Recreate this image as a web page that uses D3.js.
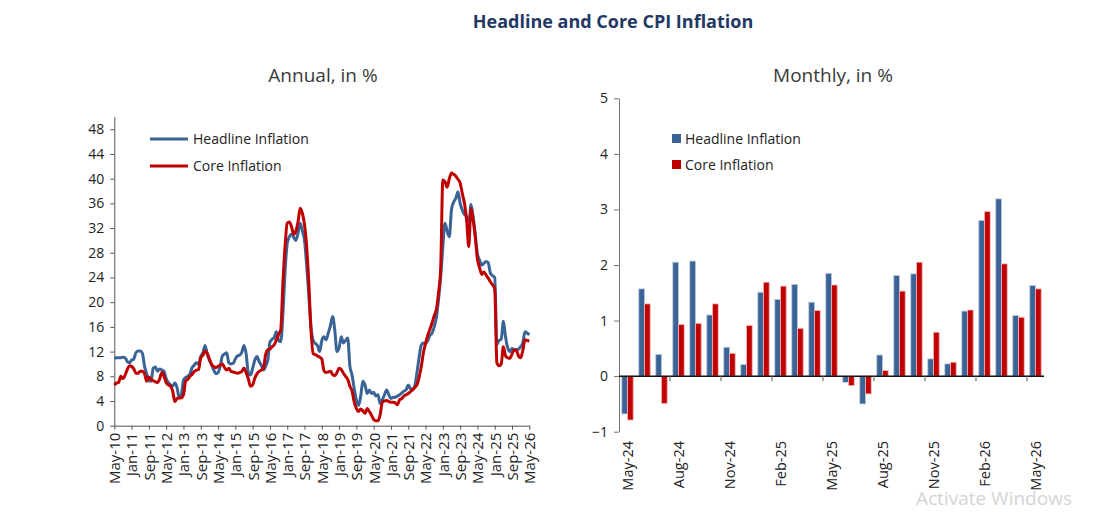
<!DOCTYPE html>
<html><head><meta charset="utf-8">
<script src="https://cdn.jsdelivr.net/npm/d3@7"></script>
<style>body{margin:0;background:#fff}svg{display:block}text{font-family:'Open Sans',sans-serif}</style>
</head><body><svg id="c" width="1096" height="512"></svg>
<script>
// ---------- DATA ----------
// Annual (y/y, %) monthly series, May-10 .. May-26
const headlineAnnual = [
10.9,11.0,11.0,11.0,11.1,11.0,10.4,10.2,
10.6,10.8,11.8,12.1,12.1,11.7,9.6,8.4,
7.3,7.2,9.3,9.5,8.8,9.2,9.0,8.8,
7.6,7.0,6.6,6.4,6.9,6.2,4.6,5.0,
7.4,7.8,8.0,8.4,9.4,9.8,10.2,10.0,
11.2,11.8,13.0,11.6,10.6,9.9,9.0,8.4,
8.6,9.6,11.3,11.6,11.8,10.2,10.0,10.1,
10.8,11.3,11.4,11.9,13.0,11.6,8.6,8.2,
9.3,10.6,11.2,10.4,9.8,9.0,9.6,10.6,
13.5,14.0,14.3,15.2,13.8,13.6,18.0,25.0,
29.5,30.6,31.0,30.5,30.0,31.2,32.8,31.6,
30.0,26.0,21.0,16.0,13.8,13.3,13.0,12.0,
13.8,14.4,13.9,15.0,16.2,17.7,15.5,12.0,
12.6,14.4,13.4,13.8,14.2,9.6,8.2,6.0,
4.2,3.3,4.8,7.2,6.6,5.2,5.8,5.2,
5.4,4.8,5.0,3.6,4.2,5.0,5.8,5.0,
4.4,4.6,4.6,4.8,5.0,5.3,5.6,5.8,
6.6,6.0,5.9,6.4,8.5,11.0,13.0,13.4,
13.3,13.8,14.6,15.0,16.0,17.5,20.5,24.0,
29.0,32.8,31.5,30.6,35.0,36.2,36.8,37.9,
36.0,34.9,34.2,33.9,32.0,35.8,33.9,31.0,
27.8,26.8,26.0,26.3,26.6,26.4,24.7,24.3,
24.0,13.2,13.8,14.0,16.9,14.4,12.6,12.0,
12.5,12.3,12.3,12.4,12.8,13.4,15.2,15.0,
14.7];
const coreAnnual = [
6.6,6.9,7.0,8.0,7.6,8.2,9.1,9.7,
9.6,9.2,8.5,8.5,8.8,8.8,8.4,7.2,
7.9,7.5,7.3,7.1,7.0,7.6,8.6,8.0,
7.0,6.6,6.4,5.6,3.9,4.4,4.5,4.5,
5.0,7.2,7.5,8.0,8.3,8.8,9.0,9.1,
11.0,11.4,12.1,11.7,10.8,9.9,9.6,9.4,
9.6,9.8,10.0,9.4,9.0,9.3,8.8,8.7,
8.6,8.5,8.6,8.8,9.3,8.6,7.6,6.4,
6.6,7.7,8.4,8.8,9.0,9.3,11.5,12.3,
12.4,12.8,13.1,13.9,14.8,15.5,23.0,29.0,
32.8,33.0,32.2,31.0,31.5,33.0,35.2,34.4,
32.6,29.0,23.0,15.5,11.7,11.5,11.3,11.1,
10.8,8.9,8.6,8.7,8.8,8.3,8.1,8.6,
9.3,9.1,8.5,8.0,7.5,6.4,5.6,3.8,
2.8,2.3,2.7,2.4,2.0,2.8,2.3,1.7,
1.0,0.8,0.8,1.8,3.8,4.0,4.1,3.9,
3.8,3.8,3.7,3.4,4.2,4.4,4.8,5.0,
5.2,5.5,5.8,6.2,6.6,7.8,9.5,11.8,
13.3,14.6,15.6,16.6,17.8,18.8,21.5,25.5,
39.8,39.5,38.6,40.0,40.9,40.7,40.4,39.9,
39.3,37.6,36.0,33.3,29.0,35.2,33.3,30.5,
27.0,25.6,24.5,24.9,24.4,23.9,23.3,22.8,
22.2,10.2,9.7,10.0,12.8,11.3,11.0,10.9,
11.6,12.3,12.2,11.3,11.0,12.2,13.9,13.8,
13.7];
const annualTickLabels = ["May-10","Jan-11","Sep-11","May-12","Jan-13","Sep-13","May-14","Jan-15","Sep-15","May-16","Jan-17","Sep-17","May-18","Jan-19","Sep-19","May-20","Jan-21","Sep-21","May-22","Jan-23","Sep-23","May-24","Jan-25","Sep-25","May-26"];
const annualYTicks = [0,4,8,12,16,20,24,28,32,36,40,44,48];

// Monthly (m/m, %) May-24 .. May-26
const monthlyCategories = ["May-24","Jun-24","Jul-24","Aug-24","Sep-24","Oct-24","Nov-24","Dec-24","Jan-25","Feb-25","Mar-25","Apr-25","May-25","Jun-25","Jul-25","Aug-25","Sep-25","Oct-25","Nov-25","Dec-25","Jan-26","Feb-26","Mar-26","Apr-26","May-26"];
const headlineMonthly = [-0.68,1.57,0.39,2.05,2.07,1.10,0.52,0.21,1.51,1.38,1.65,1.33,1.85,-0.11,-0.50,0.38,1.81,1.84,0.31,0.22,1.17,2.80,3.19,1.09,1.63];
const coreMonthly     = [-0.79,1.30,-0.49,0.93,0.95,1.30,0.41,0.91,1.69,1.62,0.86,1.18,1.64,-0.17,-0.32,0.10,1.53,2.05,0.79,0.25,1.19,2.96,2.02,1.06,1.57];
const monthlyYTicks = [-1,0,1,2,3,4,5];

const seriesNames = ["Headline Inflation","Core Inflation"];
const BLUE = "#3A6396", RED = "#C00000";

// ---------- DRAW ----------
const svg = d3.select("#c");
svg.append("text").attr("x",613).attr("y",28).attr("text-anchor","middle")
  .attr("font-size",18).attr("font-weight","bold").attr("fill","#1F3864")
  .text("Headline and Core CPI Inflation");
svg.append("text").attr("x",323).attr("y",82).attr("text-anchor","middle")
  .attr("font-size",19).attr("fill","#3a3a3a").text("Annual, in %");
svg.append("text").attr("x",833).attr("y",82).attr("text-anchor","middle")
  .attr("font-size",19).attr("fill","#3a3a3a").text("Monthly, in %");

// Left: annual lines
const xA = d3.scaleLinear().domain([0, headlineAnnual.length-1]).range([114.3, 529.3]);
const yA = d3.scaleLinear().domain([0, 50]).range([425.7, 116.9]);

const gyA = svg.append("g").attr("transform",`translate(${xA(0)},0)`)
  .call(d3.axisLeft(yA).tickValues(annualYTicks).tickSize(4).tickSizeOuter(0).tickPadding(6));
gyA.select(".domain").attr("stroke","#555");
gyA.selectAll(".tick line").attr("stroke","#555");
gyA.selectAll("text").attr("font-size",14).attr("fill","#222").attr("font-family","'Open Sans',sans-serif");

const gxA = svg.append("g").attr("transform",`translate(0,${yA(0)})`)
  .call(d3.axisBottom(xA).tickValues(d3.range(0, headlineAnnual.length, 8))
    .tickFormat((d,i)=>annualTickLabels[i]).tickSize(4).tickSizeOuter(0));
gxA.select(".domain").attr("stroke","#555");
gxA.selectAll(".tick line").attr("stroke","#555");
gxA.selectAll("text").attr("font-size",15).attr("fill","#222").attr("font-family","'Open Sans',sans-serif")
  .attr("transform","rotate(-90)").attr("text-anchor","end").attr("x",-7).attr("y",0).attr("dy","0.36em");

const line = d3.line().x((d,i)=>xA(i)).y(d=>yA(d)).curve(d3.curveMonotoneX);
svg.append("path").datum(headlineAnnual).attr("d",line).attr("fill","none")
  .attr("stroke",BLUE).attr("stroke-width",3).attr("stroke-linejoin","round");
svg.append("path").datum(coreAnnual).attr("d",line).attr("fill","none")
  .attr("stroke",RED).attr("stroke-width",3).attr("stroke-linejoin","round");

// legend left
[[BLUE,139],[RED,166]].forEach(([c,y],i)=>{
  svg.append("line").attr("x1",150).attr("x2",188).attr("y1",y).attr("y2",y)
    .attr("stroke",c).attr("stroke-width",3);
  svg.append("text").attr("x",193).attr("y",y+5).attr("font-size",14).attr("fill","#222").text(seriesNames[i]);
});

// Right: monthly bars
const xB = d3.scaleBand().domain(monthlyCategories).range([619,1044]).paddingInner(0.33).paddingOuter(0.165);
const xS = d3.scaleBand().domain([0,1]).range([0, xB.bandwidth()]);
const yB = d3.scaleLinear().domain([-1,5]).range([431.7, 98.3]);

const gyB = svg.append("g").attr("transform","translate(619,0)")
  .call(d3.axisLeft(yB).tickValues(monthlyYTicks).tickFormat(d3.format("d")).tickSize(5).tickSizeOuter(0).tickPadding(6));
gyB.select(".domain").attr("stroke","#777");
gyB.selectAll(".tick line").attr("stroke","#777");
gyB.selectAll("text").attr("font-size",14).attr("fill","#222").attr("font-family","'Open Sans',sans-serif");

const rows = monthlyCategories.map((c,i)=>({c, v:[headlineMonthly[i], coreMonthly[i]]}));
const grp = svg.append("g").selectAll("g").data(rows).join("g")
  .attr("transform",d=>`translate(${xB(d.c)},0)`);
grp.selectAll("rect").data(d=>d.v.map((v,k)=>({v,k}))).join("rect")
  .attr("x",d=>xS(d.k)).attr("width",xS.bandwidth())
  .attr("y",d=>yB(Math.max(0,d.v))).attr("height",d=>Math.abs(yB(d.v)-yB(0)))
  .attr("fill",d=>d.k===0?BLUE:RED)
  .attr("stroke",d=>d.k===0?"#b8c8dc":"#f2b8b8").attr("stroke-width",0.8);

// zero axis line with boundary ticks
const step = xB.step();
svg.append("line").attr("x1",619).attr("x2",1044).attr("y1",yB(0)).attr("y2",yB(0))
  .attr("stroke","#111").attr("stroke-width",1.5);
const labelIdx = d3.range(0, monthlyCategories.length, 3);
labelIdx.filter(i=>i>0).forEach(i=>{
  const bx = xB(monthlyCategories[i]) - step*xB.paddingInner()/2;
  svg.append("line").attr("x1",bx).attr("x2",bx).attr("y1",yB(0)).attr("y2",yB(0)+5)
    .attr("stroke","#777").attr("stroke-width",1.2);
});
labelIdx.forEach(i=>{
  const cx = xB(monthlyCategories[i]) + xB.bandwidth()/2;
  svg.append("text").attr("transform",`translate(${cx},441) rotate(-90)`)
    .attr("text-anchor","end").attr("dy","0.36em").attr("font-size",14.5).attr("fill","#222")
    .text(monthlyCategories[i]);
});

// legend right
[[BLUE,134],[RED,160]].forEach(([c,y],i)=>{
  svg.append("rect").attr("x",672).attr("y",y).attr("width",9).attr("height",9).attr("fill",c);
  svg.append("text").attr("x",685).attr("y",y+10).attr("font-size",14).attr("fill","#222").text(seriesNames[i]);
});

// watermark
svg.append("text").attr("x",916).attr("y",505).attr("font-size",19).attr("fill","#d4d4d4").text("Activate Windows");
</script></body></html>
